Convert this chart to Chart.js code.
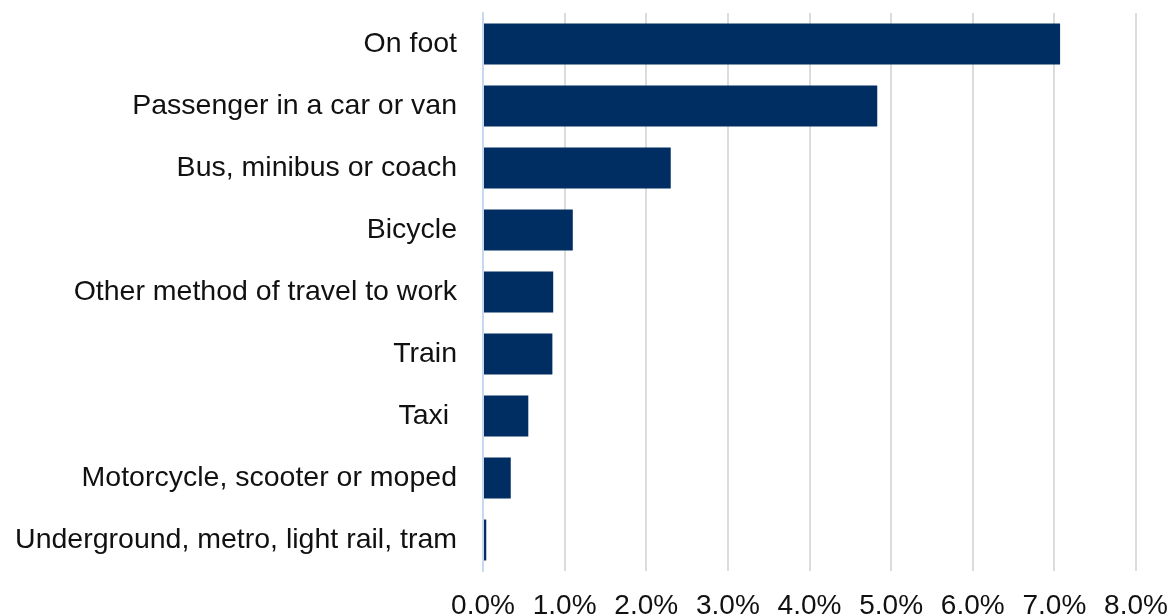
<!DOCTYPE html>
<html>
<head>
<meta charset="utf-8">
<script src="https://cdn.jsdelivr.net/npm/chart.js@4/dist/chart.umd.min.js"></script>
<style>
  html, body { margin: 0; padding: 0; background: #ffffff; overflow: hidden; }
  #wrap { width: 1171px; height: 615px; position: relative; }
</style>
</head>
<body>
<div id="wrap"><canvas id="c"></canvas></div>
<script>
const categories = [
  "On foot",
  "Passenger in a car or van",
  "Bus, minibus or coach",
  "Bicycle",
  "Other method of travel to work",
  "Train",
  "Taxi ",
  "Motorcycle, scooter or moped",
  "Underground, metro, light rail, tram"
];
const shareOfWorkers = [7.07, 4.83, 2.30, 1.10, 0.86, 0.85, 0.555, 0.34, 0.04];
const xTickValues = [0, 1, 2, 3, 4, 5, 6, 7, 8];

function zeroPad(s) { s.paddingTop = 0; s.paddingBottom = 0; s.paddingLeft = 0; s.paddingRight = 0; }

new Chart(document.getElementById('c'), {
  type: 'bar',
  data: {
    labels: categories,
    datasets: [{
      data: shareOfWorkers,
      backgroundColor: '#002d62',
      borderWidth: 0,
      categoryPercentage: 1.0,
      barPercentage: 0.66
    }]
  },
  options: {
    indexAxis: 'y',
    responsive: true,
    maintainAspectRatio: false,
    animation: false,
    layout: { padding: { top: 13, right: 35, left: 0, bottom: 0 } },
    plugins: { legend: { display: false }, tooltip: { enabled: false } },
    scales: {
      x: {
        min: 0, max: 8,
        afterBuildTicks: (s) => { s.ticks = xTickValues.map(v => ({ value: v })); },
        afterFit: (s) => { s.height = 44; zeroPad(s); },
        grid: { color: '#dcdcdc', lineWidth: 2, drawTicks: false },
        border: { display: false },
        ticks: {
          padding: 18,
          color: '#111111',
          font: { family: 'Liberation Sans, Arial, sans-serif', size: 28 },
          callback: (v) => Number(v).toFixed(1) + '%',
          maxRotation: 0, autoSkip: false
        }
      },
      y: {
        afterFit: (s) => { s.width = 483; zeroPad(s); },
        grid: { display: false, drawTicks: false },
        border: { display: true, color: '#c5d9f3', width: 2 },
        ticks: {
          padding: 26,
          color: '#111111',
          font: { family: 'Liberation Sans, Arial, sans-serif', size: 28.5 }
        }
      }
    }
  }
});
</script>
</body>
</html>
